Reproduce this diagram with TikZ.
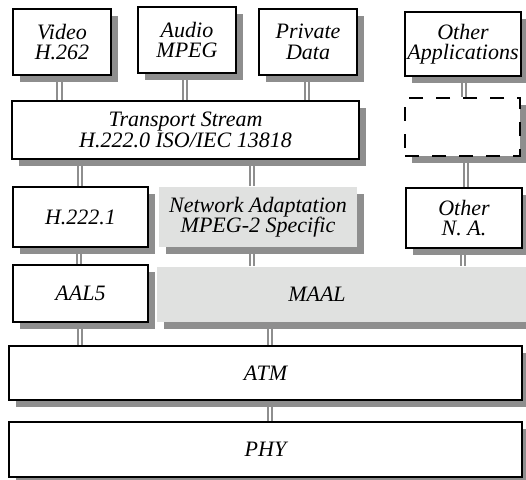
\documentclass[tikz,border=0pt]{standalone}
\usepackage{fontspec}
\setmainfont{Liberation Serif}
\definecolor{shadcol}{HTML}{8E8E8E}
\definecolor{lgray}{HTML}{E0E1E0}
\definecolor{conncol}{HTML}{8E8E8E}
\begin{document}
\begin{tikzpicture}[x=1pt,y=-1pt,
  txt/.style={align=center, inner sep=0pt, font=\fontsize{22}{20.5}\selectfont\itshape},
  box/.style={txt, draw=black, line width=1.3pt, fill=white},
  graybox/.style={txt, draw=none, fill=lgray},
  dashbox/.style={draw=black, line width=1.3pt, fill=white, dash pattern=on 14pt off 13pt},
  shadownode/.style={draw=none, fill=shadcol, inner sep=0pt, outer sep=0pt},
  connline/.style={draw=conncol, line width=1.7pt}]
\useasboundingbox (0,0) rectangle (526,479);
% shadows (offset 7pt right and down)
\node[shadownode, minimum width=98, minimum height=66] (videosh) at (69,49) {};
\node[shadownode, minimum width=98, minimum height=66] (audiosh) at (194,47) {};
\node[shadownode, minimum width=98, minimum height=66] (privsh) at (315,49) {};
\node[shadownode, minimum width=116, minimum height=64] (oappsh) at (470,51) {};
\node[shadownode, minimum width=347, minimum height=58] (tssh) at (192.5,137) {};
\node[shadownode, minimum width=115, minimum height=58] (dashsh) at (469.5,134) {};
\node[shadownode, minimum width=135, minimum height=60] (h1sh) at (87.5,224) {};
\node[shadownode, minimum width=198, minimum height=60] (nash) at (265,224) {};
\node[shadownode, minimum width=116, minimum height=60] (onash) at (471,225) {};
\node[shadownode, minimum width=135, minimum height=57] (aalsh) at (87.5,300.5) {};
\node[shadownode, minimum width=383, minimum height=55] (maalsh) at (355.5,301.5) {};
\node[shadownode, minimum width=513, minimum height=54] (atmsh) at (272.5,380) {};
\node[shadownode, minimum width=513, minimum height=55] (physh) at (272.5,456.5) {};
% top row
\node[box, minimum width=98, minimum height=66] (video) at (62,42) {Video\\H.262};
\node[box, minimum width=98, minimum height=66] (audio) at (187,40) {Audio\\MPEG};
\node[box, minimum width=98, minimum height=66] (priv) at (308,42) {Private\\Data};
\node[box, minimum width=116, minimum height=64] (oapp) at (463,44) {Other\\Applications};
% second row
\node[box, minimum width=347, minimum height=58] (ts) at (185.5,130) {Transport Stream\\H.222.0 ISO/IEC 13818};
\node[dashbox, minimum width=115, minimum height=58] (dash) at (462.5,127) {};
% third row
\node[box, minimum width=135, minimum height=60] (h1) at (80.5,217) {H.222.1};
\node[graybox, minimum width=198, minimum height=60] (na) at (258,217) {Network Adaptation\\MPEG-2 Specific};
\node[box, minimum width=116, minimum height=60] (ona) at (464,218) {Other\\N. A.};
% fourth row
\node[box, minimum width=135, minimum height=57] (aal) at (80.5,293.5) {AAL5};
\node[graybox, minimum width=383, minimum height=55] (maal) at (348.5,294.5) {\hspace*{-63pt}MAAL};
% fifth/sixth
\node[box, minimum width=513, minimum height=54] (atm) at (265.5,373) {ATM};
\node[box, minimum width=513, minimum height=55] (phy) at (265.5,449.5) {PHY};
% connectors (pairs of parallel lines)
\foreach \a/\b/\x in {video/ts/59.5, audio/ts/185, priv/ts/307, oapp/dash/464,
  ts/h1/80, ts/na/252, dash/ona/466, h1/aal/79, na/maal/252, ona/maal/463,
  aal/atm/80, maal/atm/270, atm/phy/270}{
  \coordinate (cxa) at (\x-2.3,0);
  \coordinate (cxb) at (\x+2.3,0);
  \draw[connline] ([yshift=-0.7pt]\a.south -| cxa) -- ([yshift=0.7pt]\b.north -| cxa);
  \draw[connline] ([yshift=-0.7pt]\a.south -| cxb) -- ([yshift=0.7pt]\b.north -| cxb);
}
\end{tikzpicture}
\end{document}
